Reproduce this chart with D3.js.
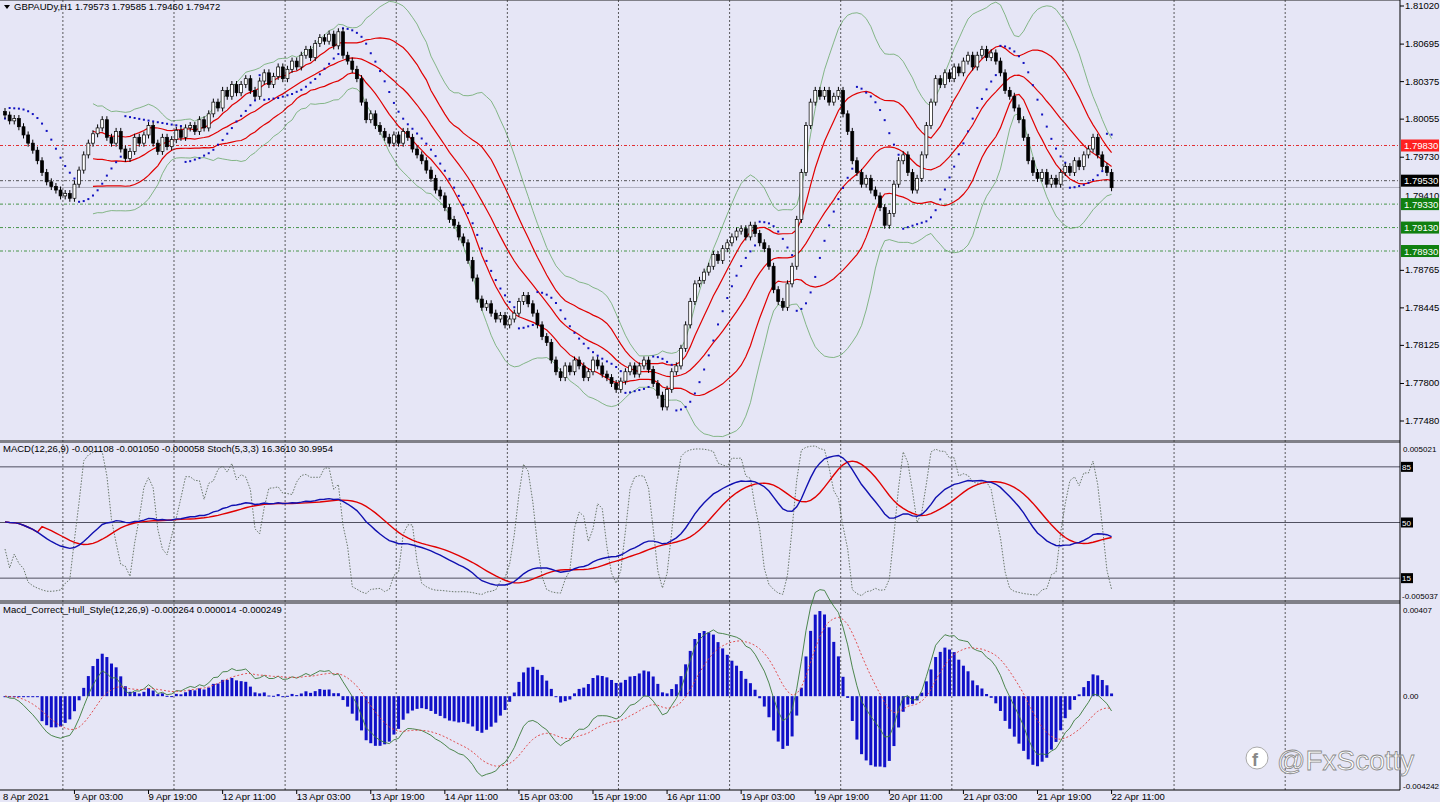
<!DOCTYPE html>
<html><head><meta charset="utf-8">
<script src="https://cdn.jsdelivr.net/npm/d3@7"></script>
<style>
body{margin:0;background:#fff;}
text{font-family:"Liberation Sans",Arial,sans-serif;font-size:9.5px;fill:#000;}
</style></head>
<body>
<svg id="chart" width="1440" height="802"></svg>
<script>
// hourly closes, GBPAUD H1
var closes = [
1.8009,1.8004,1.8006,1.7999,1.7992,1.7985,1.7979,1.7970,1.7960,1.7952,
1.7948,1.7945,1.7940,1.7942,1.7938,1.7950,1.7962,1.7975,1.7985,1.7993,
1.7998,1.8005,1.7990,1.7985,1.7995,1.7980,1.7972,1.7978,1.7990,1.7985,
1.7992,1.8000,1.7985,1.7978,1.7990,1.7982,1.7988,1.7996,1.7990,1.7998,
1.8000,1.7995,1.8005,1.7998,1.8010,1.8020,1.8015,1.8030,1.8025,1.8035,
1.8028,1.8035,1.8040,1.8030,1.8025,1.8038,1.8045,1.8035,1.8042,1.8050,
1.8040,1.8048,1.8055,1.8050,1.8060,1.8065,1.8058,1.8070,1.8075,1.8072,
1.8078,1.8068,1.8080,1.8060,1.8055,1.8048,1.8040,1.8020,1.8005,1.8010,
1.8000,1.7995,1.7990,1.7985,1.7992,1.7985,1.7995,1.7990,1.7980,1.7975,
1.7970,1.7962,1.7955,1.7945,1.7940,1.7930,1.7920,1.7915,1.7905,1.7900,
1.7885,1.7870,1.7852,1.7845,1.7848,1.7840,1.7835,1.7838,1.7830,1.7835,
1.7840,1.7850,1.7855,1.7848,1.7840,1.7830,1.7820,1.7815,1.7800,1.7790,
1.7785,1.7795,1.7790,1.7800,1.7795,1.7785,1.7790,1.7800,1.7795,1.7788,
1.7785,1.7780,1.7775,1.7782,1.7790,1.7795,1.7788,1.7795,1.7800,1.7792,
1.7780,1.7770,1.7760,1.7775,1.7790,1.7795,1.7810,1.7830,1.7850,1.7865,
1.7868,1.7875,1.7880,1.7890,1.7885,1.7895,1.7900,1.7905,1.7910,1.7912,
1.7905,1.7915,1.7908,1.7900,1.7895,1.7880,1.7860,1.7850,1.7845,1.7865,
1.7880,1.7920,1.7960,1.8000,1.8020,1.8030,1.8025,1.8030,1.8020,1.8025,
1.8030,1.8010,1.7995,1.7970,1.7960,1.7950,1.7955,1.7945,1.7940,1.7930,
1.7915,1.7925,1.7950,1.7970,1.7975,1.7960,1.7945,1.7955,1.7975,1.8000,
1.8020,1.8040,1.8035,1.8045,1.8040,1.8050,1.8045,1.8055,1.8060,1.8050,
1.8060,1.8065,1.8058,1.8062,1.8055,1.8045,1.8030,1.8025,1.8015,1.8005,
1.7990,1.7970,1.7960,1.7955,1.7960,1.7950,1.7955,1.7950,1.7960,1.7965,
1.7960,1.7970,1.7965,1.7975,1.7980,1.7990,1.7975,1.7965,1.7960,1.7947
];
var firstOpen = 1.8012;
var priceTicks = [1.81020,1.80695,1.80375,1.80055,1.79730,1.78765,1.78445,1.78125,1.77800,1.77480];
var levels = [
  {v:1.79830, c:"#e00000", label:"#ff2020", txt:"#fff"},
  {v:1.79530, c:"#303030", label:"#000", txt:"#fff"},
  {v:1.79330, c:"#208020", label:"#108010", txt:"#fff"},
  {v:1.79130, c:"#208020", label:"#108010", txt:"#fff"},
  {v:1.78930, c:"#208020", label:"#108010", txt:"#fff"}
];
var timeLabels = ["8 Apr 2021","9 Apr 03:00","9 Apr 19:00","12 Apr 11:00","13 Apr 03:00","13 Apr 19:00","14 Apr 11:00",
  "15 Apr 03:00","15 Apr 19:00","16 Apr 11:00","19 Apr 03:00","19 Apr 19:00","20 Apr 11:00","21 Apr 03:00","21 Apr 19:00","22 Apr 11:00"];
var stochLevels = [85,50,15];

var svg = d3.select("#chart");
var W = 1440, H = 802, plotR = 1400;
svg.append("rect").attr("width",W).attr("height",H).attr("fill","#e6e6f6");

var n = closes.length;
var x = d3.scaleLinear().domain([0, n-1]).range([5, 5 + (n-1)*4.63]);
var yP = d3.scaleLinear().domain([1.77480, 1.81020]).range([421, 6]);

// OHLC
var bars = closes.map(function(c,i){
  var o = i ? closes[i-1] : firstOpen;
  return {i:i, o:o, c:c, h:Math.max(o,c)+0.0003, l:Math.min(o,c)-0.0003};
});

// indicators from the closes
function sma(a,p){return a.map(function(v,i){ if(i<p-1) return null; return d3.mean(a.slice(i-p+1,i+1));});}
function sd(a,p){return a.map(function(v,i){ if(i<p-1) return null; return d3.deviation(a.slice(i-p+1,i+1))*Math.sqrt((p-1)/p);});}
function ema(a,p){var k=2/(p+1),out=[],prev=null;a.forEach(function(v,i){prev = prev===null? v : v*k+prev*(1-k); out.push(prev);});return out;}
var ma = sma(closes,20), dev = sd(closes,20);
var line = function(arr,sc){return d3.line().defined(function(d){return d!==null;}).x(function(d,i){return x(i);}).y(function(d){return sc(d);})(arr);};

// pane frames
[[0,1],[440,443],[600,604]].forEach(function(p){
  svg.append("rect").attr("x",0).attr("y",p[0]).attr("width",plotR).attr("height",p[1]-p[0]).attr("fill","#808088");
});

var pane1 = svg.append("g");
// grid verticals
var gridIdx = d3.range(0,12).map(function(k){return 12.5+24*k;});
svg.selectAll("line.vg").data(gridIdx).enter().append("line")
  .attr("x1",d=>x(d)).attr("x2",d=>x(d)).attr("y1",0).attr("y2",790)
  .attr("stroke","#333").attr("stroke-dasharray","2,2").attr("stroke-width",0.8);

// levels
levels.forEach(function(l){
  pane1.append("line").attr("x1",0).attr("x2",plotR).attr("y1",yP(l.v)).attr("y2",yP(l.v))
    .attr("stroke",l.c).attr("stroke-dasharray","3,2,1,2").attr("stroke-width",0.8);
});
pane1.append("line").attr("x1",0).attr("x2",plotR).attr("y1",yP(1.79472)).attr("y2",yP(1.79472)).attr("stroke","#b0b0c0");

// bollinger (green), red bands
pane1.append("path").attr("d",line(ma.map((m,i)=>m===null?null:m+2*dev[i]),yP)).attr("fill","none").attr("stroke","#6aa86a").attr("stroke-width",0.8);
pane1.append("path").attr("d",line(ma.map((m,i)=>m===null?null:m-2*dev[i]),yP)).attr("fill","none").attr("stroke","#6aa86a").attr("stroke-width",0.8);
[ma, ma.map((m,i)=>m===null?null:m+dev[i]), ma.map((m,i)=>m===null?null:m-dev[i])].forEach(function(a){
  pane1.append("path").attr("d",line(a,yP)).attr("fill","none").attr("stroke","#e00000").attr("stroke-width",1.2);
});

// parabolic SAR
var sar=[], up=true, af=0.02, ep=bars[0].h, s=bars[0].l;
bars.forEach(function(b,i){
  if(i===0){sar.push(s);return;}
  s = s + af*(ep-s);
  if(up){ if(b.l<s){up=false;s=ep;ep=b.l;af=0.02;} else if(b.h>ep){ep=b.h;af=Math.min(0.2,af+0.02);} }
  else { if(b.h>s){up=true;s=ep;ep=b.h;af=0.02;} else if(b.l<ep){ep=b.l;af=Math.min(0.2,af+0.02);} }
  sar.push(s);
});
pane1.selectAll("rect.sar").data(sar).enter().append("rect")
  .attr("x",(d,i)=>x(i)-1).attr("y",d=>yP(d)-1).attr("width",2).attr("height",2).attr("fill","#1010c0");

// candles
pane1.selectAll("line.wick").data(bars).enter().append("line")
  .attr("x1",d=>x(d.i)).attr("x2",d=>x(d.i)).attr("y1",d=>yP(d.h)).attr("y2",d=>yP(d.l)).attr("stroke","#000");
pane1.selectAll("rect.body").data(bars).enter().append("rect")
  .attr("x",d=>x(d.i)-1.5).attr("width",3)
  .attr("y",d=>yP(Math.max(d.o,d.c))).attr("height",d=>Math.max(1,Math.abs(yP(d.o)-yP(d.c))))
  .attr("fill",d=>d.c>=d.o?"#fff":"#000").attr("stroke","#000").attr("stroke-width",0.7);

// price axis
var axisP = svg.append("g");
priceTicks.forEach(function(t){
  axisP.append("line").attr("x1",plotR).attr("x2",plotR+4).attr("y1",yP(t)).attr("y2",yP(t)).attr("stroke","#000");
  axisP.append("text").attr("x",plotR+5).attr("y",yP(t)+3).text(t.toFixed(5));
});
axisP.append("text").attr("x",plotR+5).attr("y",yP(1.79410)+4).text("1.79410");
levels.forEach(function(l){
  axisP.append("rect").attr("x",plotR+1).attr("y",yP(l.v)-6).attr("width",38).attr("height",12).attr("fill",l.label);
  axisP.append("text").attr("x",plotR+4).attr("y",yP(l.v)+3.5).style("fill",l.txt).text(l.v.toFixed(5));
});

svg.append("text").attr("x",14).attr("y",10).text("GBPAUDy,H1  1.79573 1.79585 1.79460 1.79472");
svg.append("path").attr("d","M4,5 L10,5 L7,9 Z").attr("fill","#000");

// MACD + stoch pane
var macd = ema(closes,12).map((v,i)=>v-ema(closes,26)[i]);
var sig = sma(macd,9).map((v,i)=>v===null?macd[i]:v);
var yM = d3.scaleLinear().domain([-0.005037,0.005021]).range([596,448]);
var yS = d3.scaleLinear().domain([0,100]).range([602,443]);
var k5 = closes.map(function(c,i){ var lo=d3.min(bars.slice(Math.max(0,i-4),i+1),b=>b.l), hi=d3.max(bars.slice(Math.max(0,i-4),i+1),b=>b.h); return (c-lo)/(hi-lo)*100;});
var kSlow = sma(k5,3).map((v,i)=>v===null?k5[i]:v);
stochLevels.forEach(function(l){
  svg.append("line").attr("x1",0).attr("x2",plotR).attr("y1",yS(l)).attr("y2",yS(l)).attr("stroke","#505060");
  svg.append("rect").attr("x",plotR+1).attr("y",yS(l)-5).attr("width",12).attr("height",10).attr("fill","#000");
  svg.append("text").attr("x",plotR+2).attr("y",yS(l)+3).style("fill","#fff").style("font-size","8px").text(l);
});
svg.append("path").attr("d",line(kSlow,yS)).attr("fill","none").attr("stroke","#5a6a5a").attr("stroke-dasharray","1.5,1.5").attr("stroke-width",0.9);
svg.append("path").attr("d",line(sig,yM)).attr("fill","none").attr("stroke","#e00000").attr("stroke-width",1.4);
svg.append("path").attr("d",line(macd,yM)).attr("fill","none").attr("stroke","#1010b0").attr("stroke-width",1.4);
svg.append("text").attr("x",3).attr("y",452).text("MACD(12,26,9) -0.001108 -0.001050 -0.000058  Stoch(5,3,3) 16.3610 30.9954");
svg.append("text").attr("x",plotR+3).attr("y",452).style("font-size","8px").text("0.005021");
svg.append("text").attr("x",plotR+2).attr("y",599).style("font-size","8px").text("-0.005037");

// Hull-style MACD pane
var yH = d3.scaleLinear().domain([-0.004242,0.00407]).range([786,610]);
var fast = ema(closes,6).map((v,i)=>v-ema(closes,13)[i]);
var green = fast.map(v=>v*1.25);
var redd = ema(green,9);
var hist = macd.map((v,i)=>(v-sig[i])*2.0);
svg.selectAll("rect.hist").data(hist).enter().append("rect")
  .attr("x",(d,i)=>x(i)-1.5).attr("width",3)
  .attr("y",d=>Math.min(yH(d),yH(0))).attr("height",d=>Math.max(1,Math.abs(yH(d)-yH(0))))
  .attr("fill","#1010c8");
svg.append("path").attr("d",line(green,yH)).attr("fill","none").attr("stroke","#3a7a3a").attr("stroke-width",0.9);
svg.append("path").attr("d",line(redd,yH)).attr("fill","none").attr("stroke","#e04040").attr("stroke-dasharray","2,2").attr("stroke-width",0.9);
svg.append("text").attr("x",3).attr("y",613).text("Macd_Correct_Hull_Style(12,26,9) -0.000264 0.000014 -0.000249");
[[0.00407,"0.00407"],[0,"0.00"],[-0.004242,"-0.004242"]].forEach(function(t){
  svg.append("text").attr("x",plotR+3).attr("y",yH(t[0])+3).style("font-size","8px").text(t[1]);
});

svg.append("line").attr("x1",plotR).attr("x2",plotR).attr("y1",0).attr("y2",790).attr("stroke","#000");
svg.append("line").attr("x1",0).attr("x2",plotR).attr("y1",790).attr("y2",790).attr("stroke","#000");

// time axis
timeLabels.forEach(function(t,k){
  var xi = k===0 ? 0 : 15+16*(k-1);
  var xx = k===0 ? 3 : x(xi);
  if(k>0) svg.append("line").attr("x1",xx).attr("x2",xx).attr("y1",790).attr("y2",794).attr("stroke","#000");
  svg.append("text").attr("x",xx).attr("y",800).text(t);
});

// watermark
var wm = svg.append("g").attr("transform","translate(1245,770)");
wm.append("circle").attr("cx",12).attr("cy",-12).attr("r",11).attr("fill","#fff").attr("stroke","#aaa");
wm.append("text").attr("x",7).attr("y",-4).style("font-size","18px").style("font-weight","bold").style("fill","#888").text("f");
wm.append("text").attr("x",32).attr("y",0).style("font-size","28px")
  .style("fill","#fff").style("stroke","#888").style("stroke-width",0.8).text("@FxScotty");
</script>
</body></html>
